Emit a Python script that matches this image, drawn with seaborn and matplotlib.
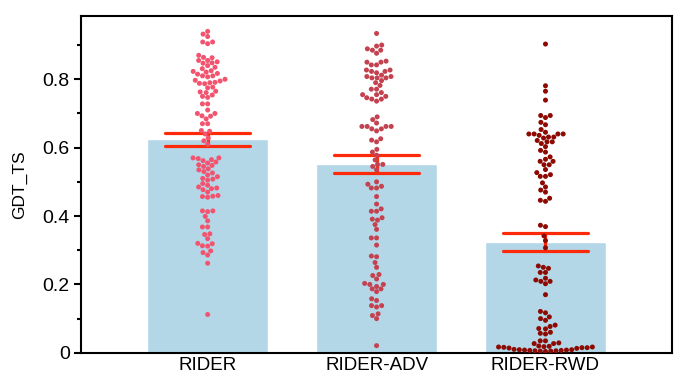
import numpy as np
import pandas as pd
import matplotlib
matplotlib.use("Agg")
import matplotlib.pyplot as plt
import seaborn as sns
from matplotlib.ticker import MultipleLocator

# --- Data ---
methods = ["RIDER", "RIDER-ADV", "RIDER-RWD"]

rider = [
    0.940, 0.932, 0.925, 0.909, 0.909, 0.904,
    0.870, 0.864, 0.863, 0.855, 0.855, 0.851, 0.848, 0.847, 0.840, 0.835,
    0.831, 0.825, 0.823, 0.821, 0.817, 0.815, 0.810, 0.810, 0.807, 0.800,
    0.797, 0.795, 0.791, 0.790, 0.788, 0.787, 0.777, 0.775, 0.765, 0.763, 0.761,
    0.754, 0.750, 0.747, 0.728, 0.728, 0.710, 0.700, 0.700, 0.693, 0.692,
    0.684, 0.670, 0.670,
    0.650, 0.648, 0.640, 0.628, 0.620, 0.610,
    0.570, 0.570, 0.568, 0.565, 0.562, 0.558, 0.555, 0.550, 0.548, 0.545,
    0.538, 0.535, 0.530, 0.526, 0.520, 0.515, 0.510, 0.508, 0.505, 0.495,
    0.490, 0.485, 0.482, 0.480, 0.477, 0.470, 0.460, 0.458, 0.457, 0.455,
    0.415, 0.415, 0.413, 0.399, 0.386, 0.368, 0.368, 0.348, 0.346, 0.334,
    0.320, 0.319, 0.313, 0.312, 0.298, 0.293, 0.286, 0.262, 0.112,
]

rider_adv = [
    0.934,
    0.900, 0.897, 0.889, 0.885, 0.885, 0.876,
    0.853, 0.850, 0.850, 0.842, 0.842,
    0.827, 0.827, 0.823, 0.823, 0.819,
    0.812, 0.808, 0.808, 0.804, 0.804, 0.804,
    0.796, 0.790,
    0.782, 0.771, 0.771, 0.761,
    0.755, 0.755, 0.750, 0.746, 0.742, 0.742, 0.736,
    0.690, 0.682, 0.672, 0.662, 0.662, 0.662, 0.662, 0.655, 0.655, 0.649,
    0.626, 0.622, 0.617,
    0.595, 0.587,
    0.578, 0.564, 0.551, 0.551, 0.545, 0.535,
    0.500, 0.493, 0.487, 0.482, 0.482,
    0.457, 0.435, 0.421, 0.414, 0.414,
    0.395, 0.391, 0.388, 0.375, 0.361,
    0.336, 0.336, 0.315,
    0.283, 0.281, 0.264, 0.250,
    0.229, 0.226, 0.216, 0.203, 0.200, 0.200, 0.194, 0.187, 0.187, 0.179,
    0.158, 0.153, 0.138, 0.134, 0.138, 0.114, 0.109, 0.100,
    0.021,
]

rider_rwd = [
    0.903,
    0.781, 0.765, 0.739,
    0.694, 0.694, 0.688, 0.674, 0.667,
    0.653, 0.645, 0.640, 0.640, 0.640, 0.640, 0.636, 0.631, 0.631, 0.628,
    0.621, 0.617, 0.617, 0.612,
    0.603, 0.592, 0.587,
    0.573, 0.566, 0.560, 0.560, 0.550, 0.550,
    0.536, 0.527, 0.521, 0.516, 0.516,
    0.497, 0.485, 0.476, 0.470, 0.452, 0.446, 0.443,
    0.373, 0.369,
    0.342, 0.328, 0.307,
    0.254, 0.250, 0.247, 0.235, 0.235, 0.218, 0.213, 0.209, 0.209, 0.202,
    0.170,
    0.121, 0.117, 0.105, 0.100, 0.095,
    0.081, 0.077, 0.071, 0.070, 0.060, 0.057, 0.055,
    0.035, 0.035, 0.029, 0.027, 0.027,
    0.020, 0.019, 0.018, 0.017, 0.017, 0.016, 0.015, 0.015, 0.014, 0.013,
    0.010, 0.009, 0.009, 0.008, 0.008, 0.007, 0.007, 0.006, 0.006, 0.005,
    0.005, 0.004,
]

ytick_values = [0, 0.2, 0.4, 0.6, 0.8]
ytick_labels = ["0", "0.2", "0.4", "0.6", "0.8"]

point_colors = ["#f2546f", "#c4424f", "#8c0a02"]
bar_color = "#b4d7e8"
err_color = "#ff2a0a"

df = pd.DataFrame({
    "method": [methods[0]] * len(rider) + [methods[1]] * len(rider_adv) + [methods[2]] * len(rider_rwd),
    "GDT_TS": rider + rider_adv + rider_rwd,
})

sns.set_style("white")
plt.rcParams["font.family"] = ["Liberation Sans", "DejaVu Sans"]
plt.rcParams["text.color"] = "black"
plt.rcParams["axes.labelcolor"] = "black"
plt.rcParams["xtick.color"] = "black"
plt.rcParams["ytick.color"] = "black"

fig = plt.figure(figsize=(6.98, 3.81), dpi=100)
ax = fig.add_axes([0.116, 0.074, 0.847, 0.884])

sns.barplot(
    data=df, x="method", y="GDT_TS", order=methods,
    color=bar_color, saturation=1, width=0.72,
    errorbar="se", capsize=0.5,
    err_kws={"color": err_color, "linewidth": 2.3},
    ax=ax,
)
sns.swarmplot(
    data=df, x="method", y="GDT_TS", order=methods,
    hue="method", hue_order=methods, palette=point_colors,
    size=3.6, legend=False, ax=ax, zorder=3,
)

ax.set_xlim(-0.75, 2.75)
ax.set_ylim(0, 0.985)
ax.set_xlabel("")
ax.set_ylabel("GDT_TS", fontsize=12.5, labelpad=11)
ax.set_yticks(ytick_values)
ax.set_yticklabels(ytick_labels)
ax.yaxis.set_minor_locator(MultipleLocator(0.1))
ax.tick_params(axis="y", which="major", direction="out", length=5, width=1.5, labelsize=14, left=True, pad=3)
ax.tick_params(axis="y", which="minor", direction="out", length=3, width=1.5, left=True)
ax.tick_params(axis="x", length=0, labelsize=13.5, pad=3)

for side in ["left", "right", "top", "bottom"]:
    ax.spines[side].set_visible(True)
    ax.spines[side].set_color("black")
    ax.spines[side].set_linewidth(1.5)

fig.savefig("out.png", dpi=100)
